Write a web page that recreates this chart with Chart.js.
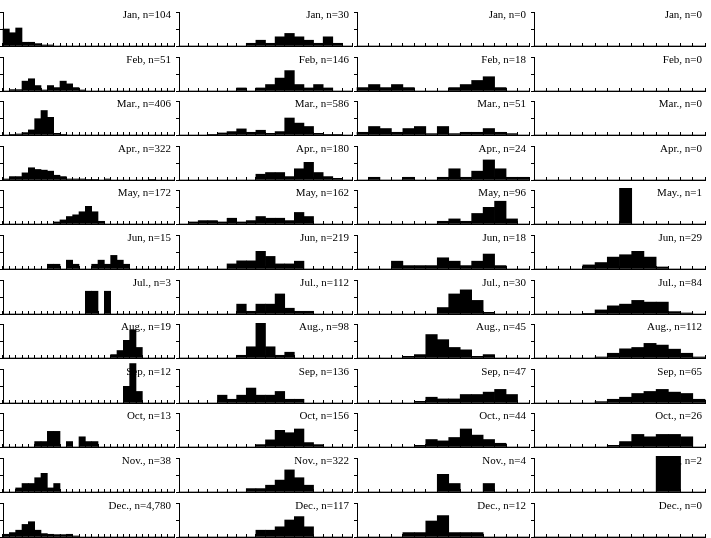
<!DOCTYPE html>
<html>
<head>
<meta charset="utf-8">
<script src="https://cdn.jsdelivr.net/npm/chart.js@4"></script>
<style>
  body { margin: 0; background: #fff; width: 711px; height: 538px; overflow: hidden; position: relative; }
  canvas { position: absolute; }
</style>
</head>
<body>
<script>
// bar heights as a share of each panel's axis height (top tick = 1)
var binCounts = [27, 18, 15, 14];

var col1Labels = ['Jan, n=104', 'Feb, n=51', 'Mar., n=406', 'Apr., n=322', 'May, n=172', 'Jun, n=15',
                  'Jul., n=3', 'Aug., n=19', 'Sep, n=12', 'Oct, n=13', 'Nov., n=38', 'Dec., n=4,780'];
var col2Labels = ['Jan, n=30', 'Feb, n=146', 'Mar., n=586', 'Apr., n=180', 'May, n=162', 'Jun, n=219',
                  'Jul., n=112', 'Aug., n=98', 'Sep, n=136', 'Oct, n=156', 'Nov., n=322', 'Dec., n=117'];
var col3Labels = ['Jan, n=0', 'Feb, n=18', 'Mar., n=51', 'Apr., n=24', 'May, n=96', 'Jun, n=18',
                  'Jul., n=30', 'Aug., n=45', 'Sep, n=47', 'Oct., n=44', 'Nov., n=4', 'Dec., n=12'];
var col4Labels = ['Jan, n=0', 'Feb, n=0', 'Mar., n=0', 'Apr., n=0', 'May., n=1', 'Jun, n=29',
                  'Jul., n=84', 'Aug., n=112', 'Sep, n=65', 'Oct., n=26', 'Nov., n=2', 'Dec., n=0'];

var col1Data = [
  [0.50, 0.39, 0.53, 0.11, 0.11, 0.07, 0.03, 0.03],
  [0, 0.04, 0.04, 0.29, 0.36, 0.16, 0.03, 0.16, 0.10, 0.29, 0.21, 0.10, 0.03],
  [0, 0.02, 0.03, 0.07, 0.15, 0.48, 0.72, 0.52, 0.05, 0.02],
  [0.03, 0.10, 0.10, 0.21, 0.36, 0.31, 0.29, 0.26, 0.14, 0.10, 0.03, 0.03, 0.03, 0.02, 0.02, 0, 0.03, 0, 0, 0, 0, 0, 0, 0.02],
  [0, 0, 0, 0, 0, 0, 0, 0, 0.06, 0.12, 0.22, 0.27, 0.36, 0.52, 0.36, 0.08],
  [0, 0, 0, 0, 0, 0, 0, 0.14, 0.14, 0, 0.26, 0.14, 0, 0, 0.14, 0.26, 0.14, 0.40, 0.26, 0.14],
  [0, 0, 0, 0, 0, 0, 0, 0, 0, 0, 0, 0, 0, 0.67, 0.67, 0, 0.67],
  [0, 0, 0, 0, 0, 0, 0, 0, 0, 0, 0, 0, 0, 0, 0, 0, 0, 0.10, 0.22, 0.52, 0.83, 0.31],
  [0, 0, 0, 0, 0, 0, 0, 0, 0, 0, 0, 0, 0, 0, 0, 0, 0, 0, 0, 0.49, 1.16, 0.34],
  [0, 0, 0, 0, 0, 0.16, 0.16, 0.46, 0.46, 0, 0.16, 0, 0.30, 0.16, 0.16],
  [0, 0, 0.12, 0.25, 0.25, 0.42, 0.55, 0.12, 0.25],
  [0.08, 0.13, 0.20, 0.37, 0.45, 0.20, 0.10, 0.08, 0.07, 0.07, 0.08, 0.03]
];
var col2Data = [
  [0, 0, 0, 0, 0, 0, 0, 0.08, 0.17, 0.08, 0.27, 0.37, 0.27, 0.17, 0.08, 0.27, 0.08],
  [0, 0, 0, 0, 0, 0, 0.09, 0, 0.09, 0.19, 0.38, 0.60, 0.19, 0.09, 0.19, 0.09],
  [0, 0, 0, 0.02, 0.06, 0.10, 0.18, 0.08, 0.14, 0.05, 0.10, 0.50, 0.35, 0.25, 0.05, 0.02, 0.02],
  [0, 0, 0, 0, 0, 0, 0, 0, 0.17, 0.22, 0.22, 0.10, 0.33, 0.52, 0.22, 0.10, 0.05],
  [0, 0.06, 0.10, 0.10, 0.06, 0.17, 0.06, 0.10, 0.22, 0.17, 0.17, 0.10, 0.34, 0.22],
  [0, 0, 0, 0, 0, 0.15, 0.24, 0.24, 0.52, 0.37, 0.15, 0.15, 0.23],
  [0, 0, 0, 0, 0, 0, 0.29, 0.08, 0.29, 0.29, 0.59, 0.17, 0.08, 0.08],
  [0, 0, 0, 0, 0, 0, 0.08, 0.33, 1.02, 0.33, 0.08, 0.17],
  [0, 0, 0, 0, 0.23, 0.11, 0.23, 0.44, 0.23, 0.23, 0.34, 0.11, 0.11],
  [0, 0, 0, 0, 0, 0, 0, 0, 0.07, 0.21, 0.49, 0.42, 0.53, 0.13, 0.07],
  [0, 0, 0, 0, 0, 0, 0, 0.10, 0.10, 0.20, 0.35, 0.65, 0.42, 0.20],
  [0, 0, 0, 0, 0, 0, 0, 0, 0.20, 0.20, 0.30, 0.50, 0.60, 0.30]
];
var col3Data = [
  [],
  [0.10, 0.19, 0.10, 0.19, 0.10, 0, 0, 0, 0.10, 0.19, 0.31, 0.42, 0.10],
  [0.08, 0.25, 0.19, 0.08, 0.19, 0.25, 0.04, 0.25, 0.04, 0.08, 0.08, 0.19, 0.08, 0.04],
  [0, 0.08, 0, 0, 0.08, 0, 0, 0.08, 0.33, 0.08, 0.26, 0.59, 0.33, 0.08, 0.08],
  [0, 0, 0, 0, 0, 0, 0, 0.08, 0.15, 0.08, 0.31, 0.49, 0.67, 0.15],
  [0, 0, 0, 0.23, 0.10, 0.10, 0.10, 0.33, 0.23, 0.10, 0.23, 0.44, 0.10],
  [0, 0, 0, 0, 0, 0, 0, 0.19, 0.59, 0.71, 0.40, 0.05],
  [0, 0, 0, 0, 0.05, 0.10, 0.69, 0.54, 0.31, 0.24, 0.05, 0.10],
  [0, 0, 0, 0, 0, 0.05, 0.17, 0.12, 0.12, 0.25, 0.25, 0.32, 0.40, 0.25],
  [0, 0, 0, 0, 0, 0.05, 0.22, 0.18, 0.28, 0.53, 0.35, 0.22, 0.11],
  [0, 0, 0, 0, 0, 0, 0, 0.52, 0.25, 0, 0, 0.25],
  [0, 0, 0, 0, 0.13, 0.13, 0.47, 0.63, 0.13, 0.13, 0.13]
];
var col4Data = [
  [],
  [],
  [],
  [],
  [0, 0, 0, 0, 0, 0, 0, 1.05],
  [0, 0, 0, 0, 0.12, 0.19, 0.35, 0.42, 0.52, 0.35, 0.06],
  [0, 0, 0, 0, 0.02, 0.12, 0.24, 0.29, 0.40, 0.35, 0.35, 0.07, 0.03],
  [0, 0, 0, 0, 0, 0.03, 0.14, 0.27, 0.31, 0.43, 0.38, 0.26, 0.14, 0.03],
  [0, 0, 0, 0, 0, 0.04, 0.11, 0.17, 0.28, 0.34, 0.40, 0.32, 0.28, 0.11],
  [0, 0, 0, 0, 0, 0, 0.05, 0.16, 0.37, 0.30, 0.37, 0.37, 0.30],
  [0, 0, 0, 0, 0, 0, 0, 0, 0, 0, 1.05, 1.05],
  []
];

var colData = [col1Data, col2Data, col3Data, col4Data];
var colLabels = [col1Labels, col2Labels, col3Labels, col4Labels];

// panel placement
var colLeft = [3, 179, 357, 534];
var colWidth = [171, 173, 172, 171];
var firstBase = 46, rowStep = 44.6, plotH = 34;
var PADL = 6, PADR = 2, PADT = 9, PADB = 2;

// label drawn before the bars so that tall bars cover it, like the original
const panelLabel = {
  id: 'panelLabel',
  beforeDatasetsDraw(chart, args, opts) {
    const ctx = chart.ctx;
    const area = chart.chartArea;
    ctx.save();
    ctx.font = '11px "Liberation Serif", "Times New Roman", serif';
    ctx.fillStyle = '#000';
    ctx.textAlign = 'right';
    ctx.textBaseline = 'alphabetic';
    ctx.fillText(opts.text, area.right - 3, area.top + 6);
    ctx.restore();
  }
};

function padBins(arr, n) {
  return arr.concat(new Array(n - arr.length).fill(0));
}

function makePanel(c, r) {
  var n = binCounts[c];
  var base = Math.round(firstBase + rowStep * r);
  var top = base - plotH;
  var cv = document.createElement('canvas');
  cv.width = colWidth[c] + PADL + PADR;
  cv.height = plotH + PADT + PADB;
  cv.style.left = (colLeft[c] - PADL) + 'px';
  cv.style.top = (top - PADT) + 'px';
  document.body.appendChild(cv);

  var labels = [];
  for (var i = 0; i < n; i++) labels.push(String(i));

  new Chart(cv.getContext('2d'), {
    type: 'bar',
    data: {
      labels: labels,
      datasets: [{
        data: padBins(colData[c][r], n),
        backgroundColor: '#000',
        borderWidth: 0,
        categoryPercentage: 1,
        barPercentage: 1,
        clip: false
      }]
    },
    options: {
      responsive: false,
      animation: false,
      events: [],
      layout: { padding: { left: PADL, right: PADR, top: PADT, bottom: PADB } },
      plugins: {
        legend: { display: false },
        tooltip: { enabled: false },
        panelLabel: { text: colLabels[c][r] }
      },
      scales: {
        x: {
          offset: true,
          afterFit: function (s) { s.height = 0; },
          ticks: { display: false },
          grid: { offset: true, drawOnChartArea: false, drawTicks: true, tickLength: -3, color: '#000', lineWidth: 1 },
          border: { display: true, color: '#000', width: 1 }
        },
        y: {
          min: 0,
          max: 1,
          afterFit: function (s) { s.width = 0; },
          ticks: { display: false, stepSize: 0.5 },
          grid: { drawOnChartArea: false, drawTicks: true, tickLength: 3, color: '#000', lineWidth: 1 },
          border: { display: true, color: '#000', width: 1 }
        }
      }
    },
    plugins: [panelLabel]
  });
}

for (var r = 0; r < 12; r++) {
  for (var c = 0; c < 4; c++) {
    makePanel(c, r);
  }
}
</script>
</body>
</html>
